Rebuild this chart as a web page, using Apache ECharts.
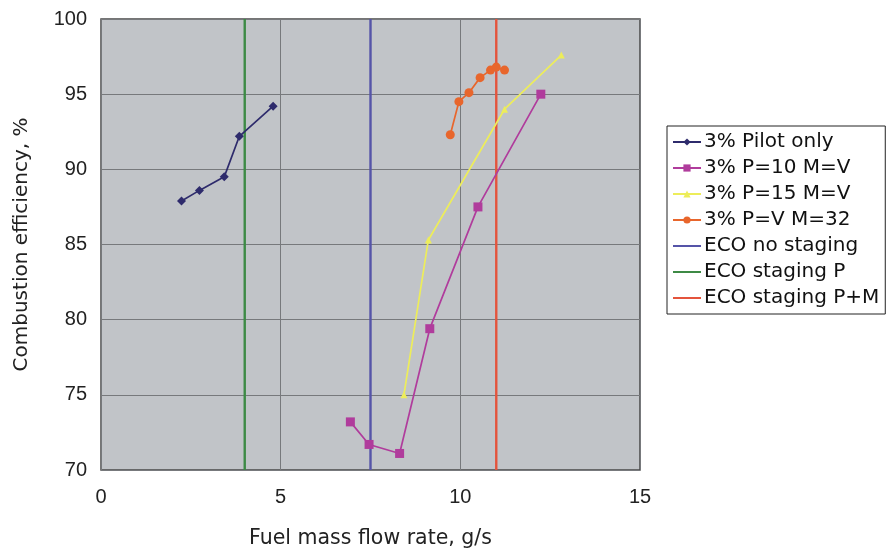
<!DOCTYPE html>
<html>
<head>
<meta charset="utf-8">
<script src="https://cdn.jsdelivr.net/npm/echarts@6/dist/echarts.min.js"></script>
<style>
  html, body { margin: 0; padding: 0; background: #ffffff; }
  #chart { width: 896px; height: 553px; }
</style>
</head>
<body>
<div id="chart"></div>
<script>
// Measured series: [fuel mass flow rate g/s, combustion efficiency %]
const pilotOnly = [[2.24, 87.9], [2.74, 88.6], [3.43, 89.5], [3.85, 92.2], [4.79, 94.2]];
const p10mv = [[6.94, 73.2], [7.46, 71.7], [8.31, 71.1], [9.15, 79.4], [10.49, 87.5], [12.24, 95.0]];
const p15mv = [[8.43, 75.0], [9.11, 85.3], [11.23, 94.0], [12.81, 97.6]];
const pvm32 = [[9.72, 92.3], [9.96, 94.5], [10.24, 95.1], [10.55, 96.1], [10.84, 96.6], [11.0, 96.8], [11.23, 96.6]];

// ECO reference flow rates (vertical lines), g/s
const ecoNoStaging = 7.5;
const ecoStagingP = 4.0;
const ecoStagingPM = 11.0;

const seriesNames = ['3% Pilot only', '3% P=10 M=V', '3% P=15 M=V', '3% P=V M=32',
  'ECO no staging', 'ECO staging P', 'ECO staging P+M'];

const xTicks = { min: 0, max: 15, step: 5 };
const yTicks = { min: 70, max: 100, step: 5 };

const FONT = '"Liberation Sans", Arial, sans-serif';
const WFONT = '"DejaVu Sans", "Liberation Sans", sans-serif';

function vline(x) {
  return [[x, yTicks.min], [x, yTicks.max]];
}

function dataSeries(name, data, color, symbol, size) {
  return {
    name: name, type: 'line', data: data,
    symbol: symbol, symbolSize: size, showSymbol: true,
    lineStyle: { color: color, width: 1.7 },
    itemStyle: { color: color },
    emphasis: { disabled: true },
    z: 5
  };
}

// Plain vertical line; transparent item colour keeps the legend key a bare line
function refSeries(name, x, color) {
  return {
    name: name, type: 'line', data: vline(x),
    symbol: 'none', showSymbol: false,
    lineStyle: { color: color, width: 2.4 },
    itemStyle: { color: 'rgba(0,0,0,0)' },
    emphasis: { disabled: true },
    z: 4
  };
}

const chart = echarts.init(document.getElementById('chart'), null, { renderer: 'canvas' });

chart.setOption({
  animation: false,
  backgroundColor: '#ffffff',
  grid: {
    left: 101, right: 256, top: 19, bottom: 83,
    outerBoundsMode: 'none', containLabel: false,
    show: true, backgroundColor: '#c1c4c8',
    borderColor: '#4a4a4a', borderWidth: 1.5
  },
  xAxis: {
    type: 'value', min: xTicks.min, max: xTicks.max, interval: xTicks.step,
    name: 'Fuel mass flow rate, g/s', nameLocation: 'middle', nameGap: 58,
    nameTextStyle: { fontFamily: WFONT, fontSize: 20.5, color: '#222' },
    axisLine: { show: false },
    axisTick: { show: false },
    axisLabel: { fontFamily: FONT, fontSize: 20, color: '#222', margin: 17 },
    splitLine: { show: true, lineStyle: { color: '#77797c', width: 1 } }
  },
  yAxis: {
    type: 'value', min: yTicks.min, max: yTicks.max, interval: yTicks.step,
    name: 'Combustion efficiency, %', nameLocation: 'middle', nameGap: 69,
    nameTextStyle: { fontFamily: WFONT, fontSize: 20, color: '#222' },
    axisLine: { show: false },
    axisTick: { show: false },
    axisLabel: { fontFamily: FONT, fontSize: 20, color: '#222', margin: 14 },
    splitLine: { show: true, lineStyle: { color: '#77797c', width: 1 } }
  },
  legend: {
    data: seriesNames,
    orient: 'vertical', left: 667, top: 126,
    padding: [6, 6, 6, 5], itemGap: 6,
    itemWidth: 28, itemHeight: 9,
    backgroundColor: '#ffffff', borderColor: '#222', borderWidth: 1, borderRadius: 0,
    textStyle: { fontFamily: WFONT, fontSize: 20, color: '#111', padding: [0, 0, 0, -2] }
  },
  series: [
    dataSeries(seriesNames[0], pilotOnly, '#2e2b6c', 'diamond', 9),
    dataSeries(seriesNames[1], p10mv, '#b03c9c', 'rect', 9),
    dataSeries(seriesNames[2], p15mv, '#eded5a', 'triangle', 7),
    dataSeries(seriesNames[3], pvm32, '#e8662c', 'circle', 9),
    refSeries(seriesNames[4], ecoNoStaging, '#5554a8'),
    refSeries(seriesNames[5], ecoStagingP, '#3d8a45'),
    refSeries(seriesNames[6], ecoStagingPM, '#e4543c')
  ]
});
</script>
</body>
</html>
